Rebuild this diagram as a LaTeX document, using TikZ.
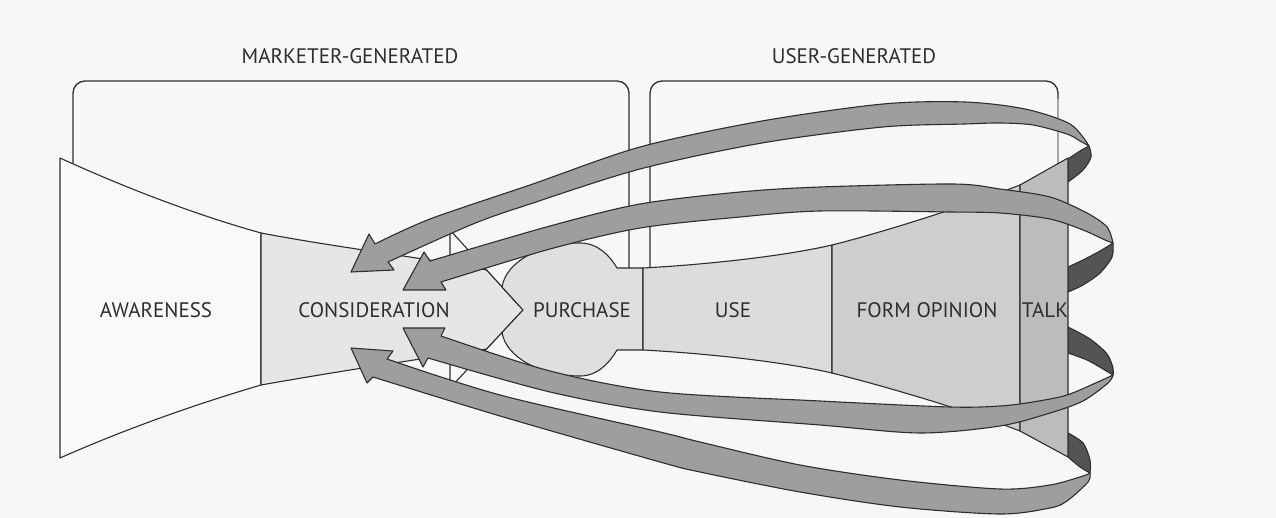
\documentclass[tikz,border=0pt]{standalone}
\usepackage{fontspec}
\setmainfont{PT Sans}
\definecolor{bg}{HTML}{F7F7F7}
\definecolor{awarc}{HTML}{F9F9F9}
\definecolor{consc}{HTML}{E6E6E6}
\definecolor{purchc}{HTML}{DFDFDF}
\definecolor{usec}{HTML}{DCDCDC}
\definecolor{formc}{HTML}{CECECE}
\definecolor{talkc}{HTML}{BCBCBC}
\definecolor{ribc}{HTML}{9E9E9E}
\definecolor{ribback}{HTML}{545454}
\definecolor{ink}{HTML}{2E2E2E}
\begin{document}
\begin{tikzpicture}[x=1pt,y=-1pt,
  outline/.style={draw=ink,line width=1.1pt,line join=round},
  bracket/.style={draw=ink,line width=1.3pt,rounded corners=12pt},
  ribbon/.style={fill=ribc,draw=ink,line width=1.1pt,line join=round},
  backface/.style={fill=ribback,draw=ink,line width=1.1pt,line join=round},
  stage/.style={font=\fontsize{21}{21}\selectfont,text=ink,inner sep=0pt}]

% canvas
\fill[bg] (0,0) rectangle (1276,518);
\useasboundingbox (0,0) rectangle (1276,518);

% group brackets
\draw[bracket] (73,164) -- (73,81) -- (629,81) -- (629,268);
\draw[bracket] (650,268) -- (650,81) -- (1058,81) -- (1058,100);
\draw[draw=black!35,line width=1.2pt] (1058,99) -- (1058,166);

% back faces of the ribbons, behind the talk column
\filldraw[backface] plot[smooth] coordinates {(1068,159) (1080,151) (1089,146)}
  -- plot[smooth] coordinates {(1089,146) (1091,157) (1083,170) (1068,182)} -- cycle;
\filldraw[backface] plot[smooth] coordinates {(1068,267) (1083,260) (1100,251) (1113,243)}
  -- plot[smooth] coordinates {(1113,243) (1112,257) (1100,273) (1083,285) (1068,292)} -- cycle;
\filldraw[backface] plot[smooth] coordinates {(1068,327) (1090,339) (1107,354) (1113,368) (1113,375)}
  -- plot[smooth] coordinates {(1113,375) (1103,369) (1087,360) (1068,353)} -- cycle;
\filldraw[backface] plot[smooth] coordinates {(1068,433) (1083,443) (1090,460) (1090,473)}
  -- plot[smooth] coordinates {(1090,473) (1080,467) (1068,457)} -- cycle;

% funnel stages
\filldraw[outline,fill=awarc] (60,158) .. controls (130,190) and (200,216) .. (261,233)
  -- (261,385) .. controls (200,403) and (130,427) .. (60,458) -- cycle;
\filldraw[outline,fill=bg] (450,230) -- (523,310) -- (450,388) -- cycle;
\filldraw[outline,fill=consc] (261,233) .. controls (340,248) and (420,257) .. (486.5,270)
  -- (523,310) -- (486.5,349) .. controls (420,359) and (340,371) .. (261,385) -- cycle;
\filldraw[outline,fill=purchc] (523,310) -- (502,287)
  .. controls (506,262) and (540,243) .. (580,243)
  .. controls (598,243) and (610,256) .. (617,268) -- (643,268) -- (643,350) -- (617,350)
  .. controls (610,362) and (598,376) .. (580,376)
  .. controls (540,376) and (506,357) .. (502,332.5) -- cycle;
\filldraw[outline,fill=usec] (643,268) .. controls (700,265) and (780,257) .. (832,245)
  -- (832,373) .. controls (780,361) and (700,353) .. (643,350) -- cycle;
\filldraw[outline,fill=formc] (832,245) .. controls (880,233) and (960,208) .. (1020,185)
  -- (1020,431) .. controls (960,408) and (880,385) .. (832,373) -- cycle;
\filldraw[outline,fill=talkc] (1020,185) -- (1068,158) -- (1068,457) -- (1020,431) -- cycle;

% labels
\node[stage] (mkt) at (350,56) {MARKETER-GENERATED};
\node[stage] (usr) at (854,56) {USER-GENERATED};
\node[stage] (aw) at (156,310) {AWARENESS};
\node[stage] (cs) at (374,310) {CONSIDERATION};
\node[stage] (pu) at (582,310) {PURCHASE};
\node[stage] (us) at (733,310) {USE};
\node[stage] (fo) at (927,310) {FORM OPINION};
\node[stage] (tk) at (1045,310) {TALK};

% feedback ribbons from talk back to consideration
\coordinate (h1) at (351,272); \coordinate (a1) at (369,234); \coordinate (b1) at (394,270);
\filldraw[ribbon] (h1) -- (a1)
  -- plot[smooth] coordinates {(375,244) (430,219) (530,185) (640,147) (762,121) (883,104) (965,102) (1025,109) (1070,124) (1089,146)}
  -- plot[smooth] coordinates {(1089,146) (1080,141) (1067,134) (1033,125) (1000,123) (965,124) (883,127) (762,143) (640,169) (530,204) (473,224) (388,262)}
  -- (b1) -- cycle;

\coordinate (h2) at (403,290); \coordinate (a2) at (424,252); \coordinate (b2) at (446,290);
\filldraw[ribbon] (h2) -- (a2)
  -- plot[smooth] coordinates {(430,261) (550,226) (640,204) (740,192) (820,187) (953,184) (1000,189) (1050,197) (1087,213) (1107,227) (1113,243)}
  -- plot[smooth] coordinates {(1113,243) (1105,240) (1083,230) (1050,219) (1000,213) (950,212) (820,211) (740,217) (640,228) (550,249) (441,282)}
  -- (b2) -- cycle;

\coordinate (h3) at (403,328); \coordinate (a3) at (445,328); \coordinate (b3) at (423,367);
\filldraw[ribbon] (h3) -- (a3)
  -- plot[smooth] coordinates {(441,336) (550,371) (660,392) (820,401) (950,407) (1000,406) (1033,402) (1067,395) (1100,381) (1113,375)}
  -- plot[smooth] coordinates {(1113,375) (1108,383) (1083,401) (1050,413) (1000,426) (920,433) (820,425) (660,412) (550,392) (428,358)}
  -- (b3) -- cycle;

\coordinate (h4) at (351,348); \coordinate (a4) at (393,351); \coordinate (b4) at (367,383);
\filldraw[ribbon] (h4) -- (a4)
  -- plot[smooth] coordinates {(387,359) (500,395) (660,432) (700,442) (800,465) (900,480) (1000,489) (1050,485) (1083,476) (1090,473)}
  -- plot[smooth] coordinates {(1090,473) (1088,482) (1067,501) (1050,508) (1000,514) (900,507) (800,492) (700,472) (660,462) (500,416) (373,377)}
  -- (b4) -- cycle;
\end{tikzpicture}
\end{document}
